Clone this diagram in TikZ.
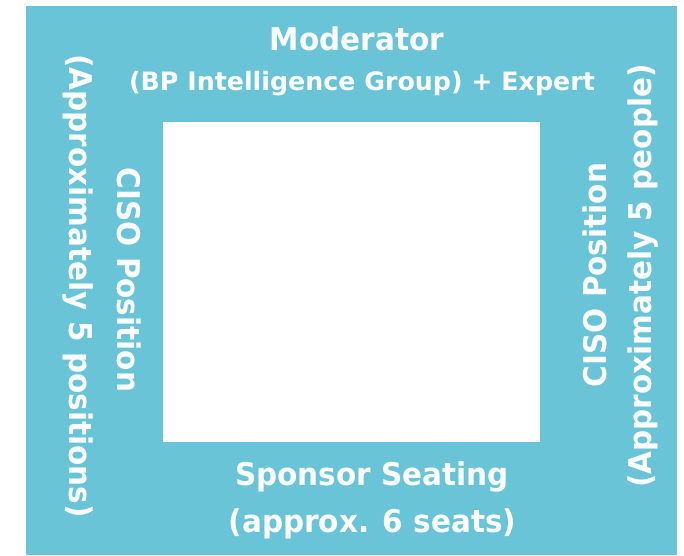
\documentclass[tikz,border=0pt]{standalone}
\usepackage{fontspec}
\setmainfont{DejaVu Sans}
\definecolor{tblue}{RGB}{105,196,216}
\newcommand{\tallt}[1]{\scalebox{1}[1.06]{#1}}
\tikzset{
  lbl/.style={text=white, font=\bfseries\fontsize{29.5}{32}\selectfont, inner sep=0pt, anchor=base},
  sublbl/.style={text=white, font=\bfseries\fontsize{25.3}{28}\selectfont, inner sep=0pt, anchor=base},
}
\begin{document}
\begin{tikzpicture}[x=1pt,y=-1pt]
\useasboundingbox (0,0) rectangle (684,555);
\fill[tblue] (26,6) rectangle (677,555);
\node[fill=white, minimum width=377pt, minimum height=320pt, inner sep=0pt, anchor=north west] (table) at (163,122) {};
\node[lbl] (mod) at (357,50) {\tallt{Moderator}};
\node[sublbl] (bp) at (362,90) {(BP Intelligence Group) + Expert};
\node[lbl] (spon) at (372,485) {\tallt{Sponsor Seating}};
\node[lbl] (seats) at (372.5,532) {\tallt{(approx. 6 seats)}};
\node[lbl, rotate=-90] (lout) at (69,286) {\tallt{(Approximately 5 positions)}};
\node[lbl, rotate=-90] (lin) at (117,280) {\tallt{CISO Position}};
\node[lbl, rotate=90] (rin) at (606,275) {\tallt{CISO Position}};
\node[lbl, rotate=90] (rout) at (651,276) {\tallt{(Approximately 5 people)}};
\end{tikzpicture}
\end{document}
